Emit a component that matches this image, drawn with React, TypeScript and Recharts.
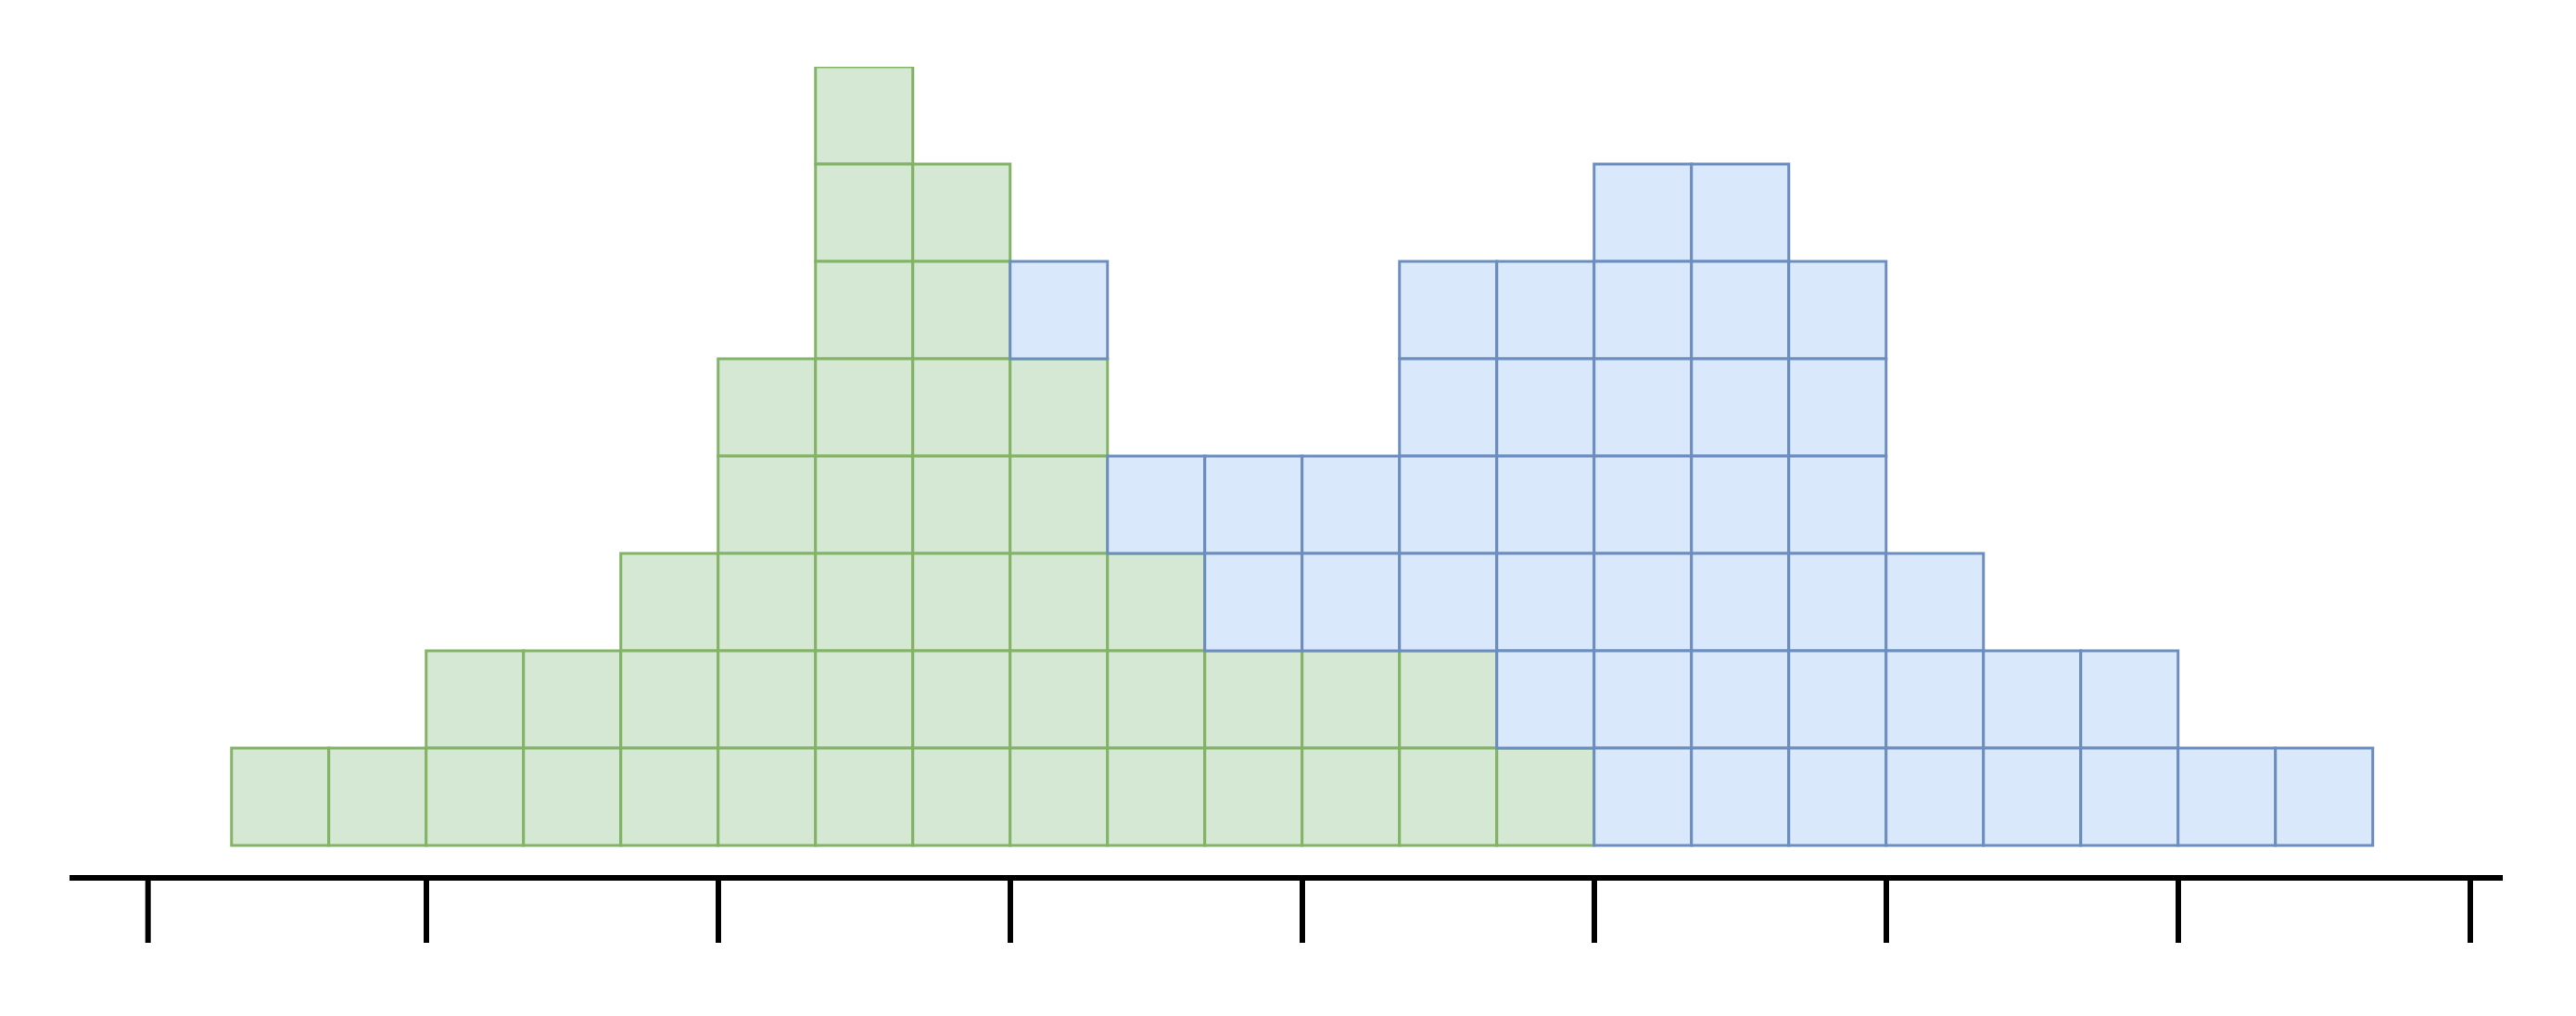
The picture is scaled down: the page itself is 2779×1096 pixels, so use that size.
import { BarChart, Bar, XAxis, YAxis } from "recharts";

// bin index (left edge of each column), unit counts per column
const BINS = [0, 1, 2, 3, 4, 5, 6, 7, 8, 9, 10, 11, 12, 13, 14, 15, 16, 17, 18, 19, 20, 21];
const GREEN = [1, 1, 2, 2, 3, 5, 8, 7, 5, 3, 2, 2, 2, 1, 0, 0, 0, 0, 0, 0, 0, 0];
const BLUE = [0, 0, 0, 0, 0, 0, 0, 0, 1, 1, 2, 2, 4, 5, 7, 7, 6, 3, 2, 2, 1, 1];
const TICKS = [-0.86, 2, 5, 8, 11, 14, 17, 20, 23];

const W = 2779;
const H = 1096;
const UNIT = 105; // px per bin / per count

const data = BINS.map((b, i) => ({ pos: b + 0.5, green: GREEN[i], blue: BLUE[i] }));

// draws a stacked bar as a column of individual unit squares
const UnitStack = (props: any) => {
  const { x, y, width, height, n, fill, stroke } = props;
  if (!n || !height) return null;
  const h = height / n;
  const cx = x + width / 2;
  return (
    <g>
      {Array.from({ length: n }, (_, k) => (
        <rect key={k} x={cx - h / 2} y={y + k * h} width={h} height={h}
          fill={fill} stroke={stroke} strokeWidth={3} />
      ))}
    </g>
  );
};

export default function App() {
  return (
    <div style={{ position: "absolute", left: 0, top: 0, width: W, height: H, background: "#fff" }}>
      <BarChart width={W} height={H} data={data} barGap={0} barCategoryGap={0}
        margin={{ top: 72, right: 79, bottom: 0, left: 75 }}>
        <XAxis dataKey="pos" type="number" domain={[-5 / 3, 70 / 3]} allowDataOverflow
          ticks={TICKS} interval={0} tick={() => <g />} tickSize={70} height={149}
          axisLine={{ stroke: "#000", strokeWidth: 6 }}
          tickLine={{ stroke: "#000", strokeWidth: 6 }} />
        <YAxis hide type="number" domain={[-1 / 3, 8]} allowDataOverflow />
        <Bar dataKey="green" stackId="s" barSize={UNIT} isAnimationActive={false}
          shape={(p: any) => <UnitStack {...p} n={p.payload.green} fill="#d5e8d4" stroke="#82b366" />} />
        <Bar dataKey="blue" stackId="s" barSize={UNIT} isAnimationActive={false}
          shape={(p: any) => <UnitStack {...p} n={p.payload.blue} fill="#dae8fc" stroke="#6c8ebf" />} />
      </BarChart>
    </div>
  );
}
